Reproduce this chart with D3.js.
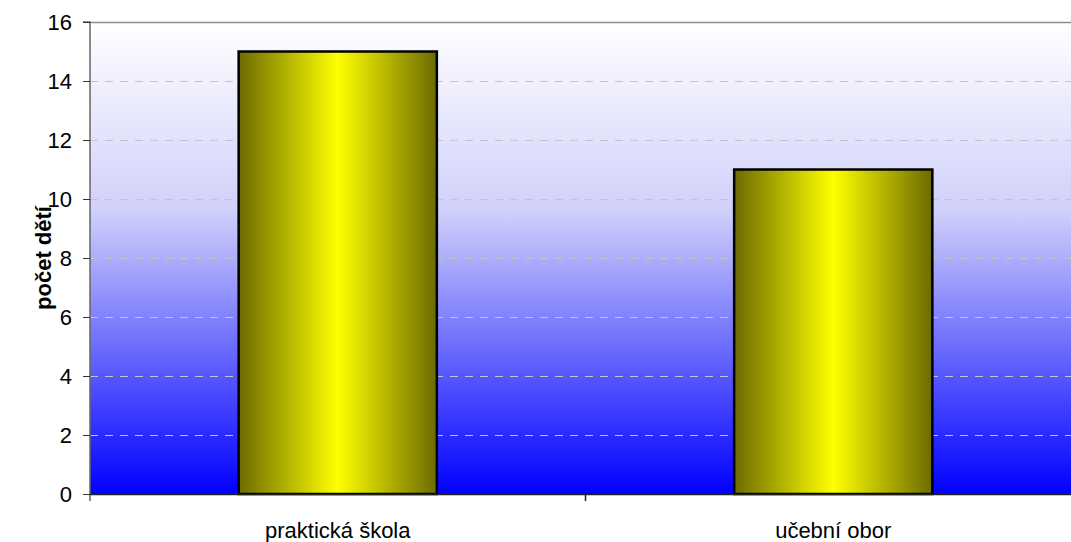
<!DOCTYPE html>
<html><head><meta charset="utf-8">
<script src="https://cdn.jsdelivr.net/npm/d3@7"></script>
<style>body{margin:0;background:#fff}svg{display:block}text{font-family:"Liberation Sans",Arial,sans-serif}</style>
</head><body><svg id="c" width="1071" height="542"></svg>
<script>
const categories = ["praktická škola", "učební obor"];
const values = [15, 11];
const yTicks = [0, 2, 4, 6, 8, 10, 12, 14, 16];
const yTitle = "počet dětí";

const svg = d3.select("#c");
const m = {left: 90, top: 22, right: 1081, bottom: 494};
const x = d3.scaleBand().domain(categories).range([m.left, m.right]).paddingInner(0.6).paddingOuter(0.3);
const y = d3.scaleLinear().domain([0, 16]).range([m.bottom, m.top]);

const defs = svg.append("defs");
const bg = defs.append("linearGradient").attr("id", "bg").attr("x1", 0).attr("y1", 0).attr("x2", 0).attr("y2", 1);
bg.append("stop").attr("offset", "0%").attr("stop-color", "#ffffff");
bg.append("stop").attr("offset", "40%").attr("stop-color", "#d0d0fb");
bg.append("stop").attr("offset", "100%").attr("stop-color", "#0000ff");
const bar = defs.append("linearGradient").attr("id", "bar").attr("x1", 0).attr("y1", 0).attr("x2", 1).attr("y2", 0);
bar.append("stop").attr("offset", "0%").attr("stop-color", "#6b6b00");
bar.append("stop").attr("offset", "50%").attr("stop-color", "#ffff00");
bar.append("stop").attr("offset", "100%").attr("stop-color", "#6b6b00");

svg.append("rect").attr("x", m.left).attr("y", m.top).attr("width", m.right - m.left).attr("height", m.bottom - m.top).attr("fill", "url(#bg)");
svg.append("line").attr("x1", m.left).attr("x2", m.right).attr("y1", m.top + 0.5).attr("y2", m.top + 0.5).attr("stroke", "#8c8c8c").attr("stroke-width", 1.5);

svg.append("g").selectAll("line").data(yTicks.filter(d => d > 0 && d < 16)).join("line")
  .attr("x1", m.left).attr("x2", m.right).attr("y1", d => Math.round(y(d)) + 0.5).attr("y2", d => Math.round(y(d)) + 0.5)
  .attr("stroke", "#c4c4c4").attr("stroke-width", 1).attr("stroke-dasharray", "8,7");

svg.append("g").selectAll("rect").data(values).join("rect")
  .attr("x", (d, i) => x(categories[i]))
  .attr("y", d => y(d))
  .attr("width", x.bandwidth())
  .attr("height", d => y(0) - y(d))
  .attr("fill", "url(#bar)").attr("stroke", "#000").attr("stroke-width", 2.5);

const ya = svg.append("g").attr("transform", `translate(${m.left},0)`)
  .call(d3.axisLeft(y).tickValues(yTicks).tickSize(7).tickPadding(11).tickFormat(d3.format("d")));
ya.select(".domain").attr("stroke", "#666").attr("stroke-width", 1.5).attr("d", `M-7,${m.top}H0V${m.bottom + 7}`);
ya.selectAll(".tick line").attr("stroke", "#333");
ya.selectAll("text").attr("font-size", 22).attr("fill", "#000");

const xb = d3.scaleLinear().domain([0, 2]).range([m.left, m.right]);
const xa = svg.append("g").attr("transform", `translate(0,${m.bottom})`);
xa.append("line").attr("x1", m.left).attr("x2", m.right).attr("y1", 0.5).attr("y2", 0.5).attr("stroke", "#222").attr("stroke-width", 1.5);
xa.selectAll("line.t").data([1, 2]).join("line").attr("class", "t")
  .attr("x1", d => xb(d)).attr("x2", d => xb(d)).attr("y1", 0).attr("y2", 7).attr("stroke", "#222").attr("stroke-width", 1.5);
xa.selectAll("text").data(categories).join("text")
  .attr("x", d => x(d) + x.bandwidth() / 2).attr("y", 44).attr("text-anchor", "middle")
  .attr("font-size", 22).attr("fill", "#000").text(d => d);

svg.append("text").attr("transform", `translate(51,${(m.top + m.bottom) / 2}) rotate(-90)`)
  .attr("text-anchor", "middle").attr("font-size", 22).attr("font-weight", "bold").text(yTitle);
</script></body></html>
